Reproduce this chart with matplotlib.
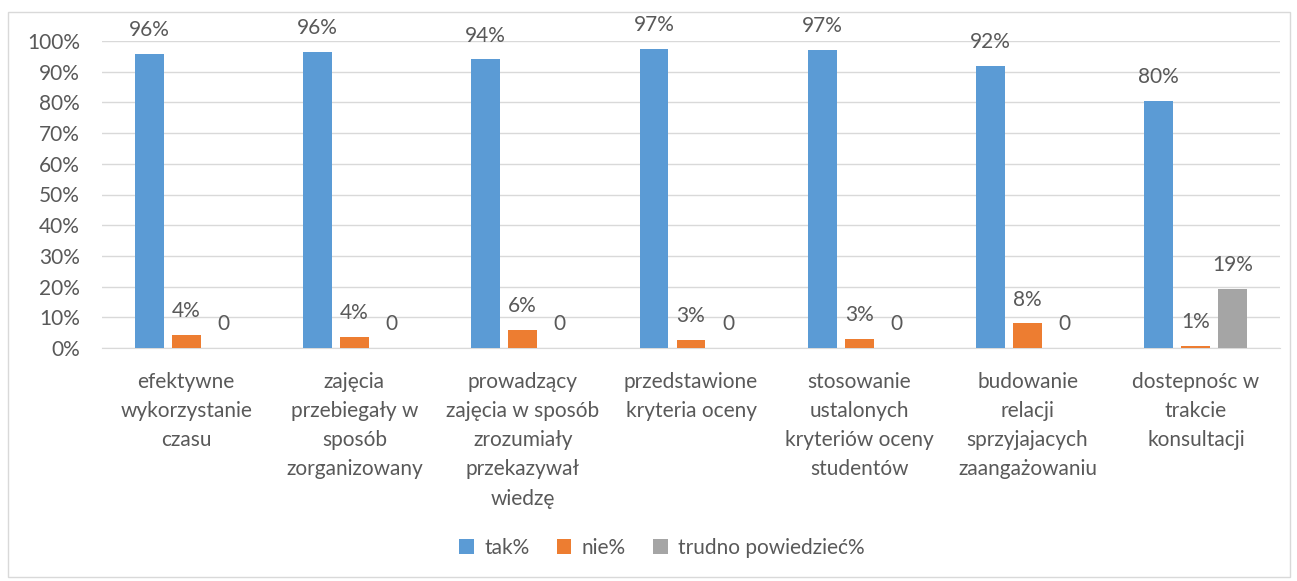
import matplotlib.pyplot as plt
import matplotlib.patches as mpatches
import numpy as np

categories = [
    "efektywne\nwykorzystanie\nczasu",
    "zajęcia\nprzebiegały w\nsposób\nzorganizowany",
    "prowadzący\nzajęcia w sposób\nzrozumiały\nprzekazywał\nwiedzę",
    "przedstawione\nkryteria oceny",
    "stosowanie\nustalonych\nkryteriów oceny\nstudentów",
    "budowanie\nrelacji\nsprzyjajacych\nzaangażowaniu",
    "dostepnośc w\ntrakcie\nkonsultacji",
]
tak = [95.8, 96.4, 94.1, 97.4, 97.1, 91.9, 80.5]
nie = [4.2, 3.6, 5.9, 2.6, 2.9, 8.1, 0.7]
trudno = [0, 0, 0, 0, 0, 0, 19.2]
series_names = ["tak%", "nie%", "trudno powiedzieć%"]
colors = ["#5B9BD5", "#ED7D31", "#A5A5A5"]

plt.rcParams['font.family'] = ['Lato', 'DejaVu Sans']
txt = "#595959"
fs = 15

fig = plt.figure(figsize=(12.97, 5.81), dpi=100)
ax = fig.add_axes([102 / 1297, 1 - 348 / 581, 1178 / 1297, 307 / 581])

# outer chart border
fig.patches.append(mpatches.Rectangle((8 / 1297, 4 / 581), 1282 / 1297, 565 / 581,
                                      transform=fig.transFigure, fill=False,
                                      edgecolor="#D9D9D9", lw=1))

x = np.arange(len(categories))
w = 0.172
off = 0.22
for i, (vals, c, name) in enumerate(zip([tak, nie, trudno], colors, series_names)):
    pos = x + (i - 1) * off
    ax.bar(pos, vals, w, color=c, label=name, zorder=3)
    for p, v in zip(pos, vals):
        lab = "0" if v == 0 else f"{round(v):.0f}%"
        ax.annotate(lab, (p, v), xytext=(0, 17), textcoords="offset points",
                    ha="center", va="center", fontsize=fs, color=txt)

ax.set_xlim(-0.5, len(categories) - 0.5)
ax.set_ylim(0, 100)
ax.set_yticks(np.arange(0, 101, 10))
ax.set_yticklabels([f"{v}%" for v in range(0, 101, 10)], fontsize=fs, color=txt)
ax.set_xticks(x)
ax.set_xticklabels(categories, fontsize=fs, color=txt, linespacing=1.58, va="top")
ax.tick_params(axis="both", length=0)
ax.tick_params(axis="x", pad=17)
ax.tick_params(axis="y", pad=16)
ax.grid(axis="y", color="#D9D9D9", lw=1, zorder=0)
for s in ["top", "right", "left"]:
    ax.spines[s].set_visible(False)
ax.spines["bottom"].set_color("#D9D9D9")

leg = fig.legend(loc="center", bbox_to_anchor=(662 / 1297, 1 - 548 / 581), ncol=3,
                 frameon=False, fontsize=fs, handlelength=0.7, handleheight=0.7,
                 columnspacing=1.3, handletextpad=0.5)
for t in leg.get_texts():
    t.set_color(txt)

fig.savefig("out.png", dpi=100)
